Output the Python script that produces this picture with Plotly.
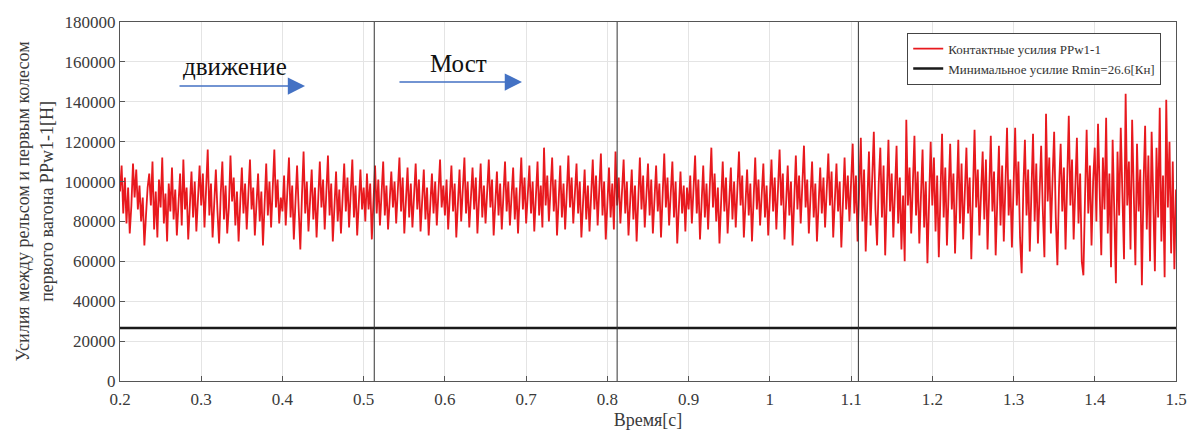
import numpy as np
import plotly.graph_objects as go

# Contact force between rail and first wheel of the first car, kN,
# sampled evenly from t = 0.2 s to t = 1.5 s
t_start, t_end = 0.2, 1.5
force_kN = [
    95, 108, 84, 102, 79, 97, 74, 88, 109, 92, 106, 86, 98, 80, 92, 68, 83, 97, 104, 88,
    110, 76, 95, 72, 101, 87, 112, 79, 94, 70, 99, 85, 107, 81, 96, 73, 89, 104, 78, 111,
    86, 97, 71, 93, 105, 82, 100, 75, 92, 108,
    88, 104, 77, 96, 116, 83, 99, 72, 90, 106, 85, 69, 94, 110, 81, 98, 74, 87, 113, 90,
    102, 78, 95, 70, 89, 107, 84, 99, 76, 93, 111, 86, 97, 73, 91, 104, 80, 95, 68, 88,
    109, 83, 100, 77, 94, 116, 87, 101, 79, 92,
    85, 103, 78, 96, 112, 82, 98, 71, 90, 108, 86, 66, 93, 115, 84, 100, 75, 89, 106, 81,
    97, 72, 92, 110, 87, 101, 76, 95, 113, 83, 99, 70, 88, 105, 80, 96, 74, 91, 109, 85,
    102, 77, 94, 111, 82, 98, 73, 90, 106, 86,
    97, 80, 104, 86, 99, 71, 92, 108, 84, 101, 78, 95, 110, 83, 98, 76, 93, 105, 87, 100,
    79, 96, 112, 85, 102, 74, 91, 107, 82, 99, 77, 94, 109, 86, 101, 75, 92, 106, 81, 97,
    73, 90, 104, 84, 100, 78, 95, 111, 87, 98,
    83, 101, 76, 94, 108, 85, 99, 72, 91, 106, 80, 97, 112, 84, 100, 77, 93, 107, 86, 102,
    74, 90, 109, 82, 98, 79, 95, 111, 87, 101, 73, 92, 105, 83, 99, 76, 94, 110, 85, 100,
    78, 96, 107, 81, 97, 74, 91, 112, 86, 102,
    79, 95, 108, 84, 100, 75, 92, 110, 83, 98, 77, 117, 88, 103, 80, 96, 112, 85, 101, 73,
    94, 108, 82, 99, 76, 93, 113, 87, 102, 79, 97, 109, 84, 100, 72, 91, 106, 81, 98, 75,
    95, 111, 86, 103, 78, 94, 114, 83, 100, 71,
    93, 107, 82, 99, 76, 115, 88, 102, 79, 96, 111, 84, 100, 73, 92, 106, 81, 98, 70, 94,
    112, 86, 103, 77, 95, 109, 83, 101, 74, 91, 108, 85, 99, 72, 96, 114, 87, 102, 78, 93,
    110, 82, 100, 69, 90, 105, 84, 98, 75, 97,
    86, 103, 79, 96, 113, 84, 101, 71, 92, 108, 82, 99, 76, 95, 117, 87, 104, 80, 97, 69,
    90, 110, 85, 102, 74, 93, 107, 81, 100, 77, 96, 115, 88, 103, 72, 91, 106, 83, 99, 70,
    94, 112, 86, 101, 78, 95, 109, 82, 98, 73,
    92, 111, 85, 102, 76, 97, 116, 88, 104, 71, 93, 108, 83, 100, 68, 90, 113, 86, 103, 79,
    96, 118, 87, 101, 74, 94, 110, 82, 99, 70, 91, 107, 84, 102, 77, 98, 114, 88, 105, 72,
    93, 109, 85, 100, 67, 95, 112, 86, 103, 80,
    97, 119, 84, 103, 70, 92, 122, 80, 106, 65, 94, 115, 78, 101, 125, 86, 68, 99, 117, 82,
    108, 63, 90, 121, 85, 104, 72, 96, 118, 79, 102, 66, 93, 60, 131, 88, 107, 74, 98, 123,
    83, 105, 69, 91, 116, 77, 100, 59, 94, 120,
    88, 112, 75, 103, 62, 95, 124, 82, 107, 68, 99, 119, 86, 104, 64, 92, 121, 79, 109, 71,
    97, 117, 84, 102, 61, 90, 126, 87, 106, 73, 100, 115, 81, 111, 66, 94, 123, 85, 105, 63,
    91, 118, 78, 108, 70, 96, 127, 83, 101, 67,
    104, 127, 88, 110, 72, 54, 96, 121, 83, 106, 65, 93, 124, 80, 109, 69, 98, 118, 86, 62,
    134, 90, 112, 74, 101, 125, 82, 58, 97, 119, 85, 107, 66, 94, 133, 88, 111, 71, 99, 122,
    79, 104, 60, 53, 92, 126, 84, 108, 68, 100,
    117, 80, 129, 95, 63, 112, 86, 132, 74, 104, 57, 121, 90, 49, 115, 83, 127, 98, 61, 144,
    88, 110, 66, 131, 93, 58, 119, 85, 106, 48, 98, 128, 76, 113, 60, 125, 91, 55, 117, 82,
    137, 70, 103, 52, 141, 87, 120, 64, 110, 56,
    96,
]

r_min_kN = 26.6                      # minimum admissible contact force
section_marks = [0.513, 0.812, 1.109]  # section boundaries, s

x_ticks = [0.2, 0.3, 0.4, 0.5, 0.6, 0.7, 0.8, 0.9, 1.0, 1.1, 1.2, 1.3, 1.4, 1.5]
x_tick_text = ["0.2", "0.3", "0.4", "0.5", "0.6", "0.7", "0.8", "0.9", "1",
               "1.1", "1.2", "1.3", "1.4", "1.5"]
y_ticks = [0, 20000, 40000, 60000, 80000, 100000, 120000, 140000, 160000, 180000]

time_s = np.linspace(t_start, t_end, len(force_kN))
force_N = np.array(force_kN, dtype=float) * 1000.0

SERIF = "Liberation Serif, Times New Roman, serif"
TXT = "#3a3a3a"

fig = go.Figure()

fig.add_trace(go.Scatter(
    x=time_s, y=force_N, mode="lines",
    line=dict(color="#e8191e", width=1.8),
    name="Контактные усилия PPw1-1",
))
fig.add_trace(go.Scatter(
    x=[t_start, t_end], y=[r_min_kN * 1000.0] * 2, mode="lines",
    line=dict(color="#1a1a1a", width=2.5),
    name="Минимальное усилие Rmin=26.6[Кн]",
))

for xm in section_marks:
    fig.add_shape(type="line", xref="x", yref="paper", x0=xm, x1=xm, y0=0, y1=1,
                  line=dict(color="#333333", width=1), layer="above")

# direction labels with arrows
fig.add_annotation(x=0.3416, y=157600, text="движение", showarrow=False,
                   font=dict(family=SERIF, size=25, color="#111111"))
fig.add_annotation(x=0.617, y=159400, text="Мост", showarrow=False,
                   font=dict(family=SERIF, size=25, color="#111111"))
fig.add_annotation(x=0.4278, y=147900, ax=0.2714, ay=147900, xref="x", yref="y",
                   axref="x", ayref="y", text="", showarrow=True,
                   arrowhead=2, arrowsize=2.3, arrowwidth=1.5, arrowcolor="#4472c4")
fig.add_annotation(x=0.6949, y=149900, ax=0.5422, ay=149900, xref="x", yref="y",
                   axref="x", ayref="y", text="", showarrow=True,
                   arrowhead=2, arrowsize=2.3, arrowwidth=1.5, arrowcolor="#4472c4")

fig.update_layout(
    width=1189, height=430,
    margin=dict(l=120, r=13, t=22, b=49),
    paper_bgcolor="white", plot_bgcolor="white",
    font=dict(family=SERIF, color=TXT),
    showlegend=True,
    legend=dict(
        x=0.986, y=0.97, xanchor="right", yanchor="top",
        bgcolor="white", bordercolor="#444444", borderwidth=1,
        font=dict(family=SERIF, size=13, color="#333333"),
        tracegroupgap=0, itemwidth=30,
    ),
    xaxis=dict(
        range=[t_start, t_end], tickvals=x_ticks, ticktext=x_tick_text,
        automargin=False,
        showgrid=True, gridcolor="#e4e4e4", gridwidth=1,
        showline=True, linecolor="#555555", linewidth=1, mirror=True,
        ticks="inside", ticklen=5, tickcolor="#555555",
        ticklabelstandoff=3,
        tickfont=dict(family=SERIF, size=17, color=TXT),
        title=dict(text="Время[с]", font=dict(family=SERIF, size=18, color=TXT),
                   standoff=8),
        zeroline=False,
    ),
    yaxis=dict(
        range=[0, 180000], tickvals=y_ticks, tickformat="d",
        automargin=False,
        showgrid=True, gridcolor="#e4e4e4", gridwidth=1,
        showline=True, linecolor="#555555", linewidth=1, mirror=True,
        ticks="inside", ticklen=5, tickcolor="#555555",
        tickfont=dict(family=SERIF, size=17, color=TXT),
        title=dict(text="Усилия между рельсом и первым колесом<br>первого вагона PPw1-1[H]",
                   font=dict(family=SERIF, size=18, color=TXT), standoff=6),
        zeroline=False,
    ),
)

fig.write_html("out.html")
